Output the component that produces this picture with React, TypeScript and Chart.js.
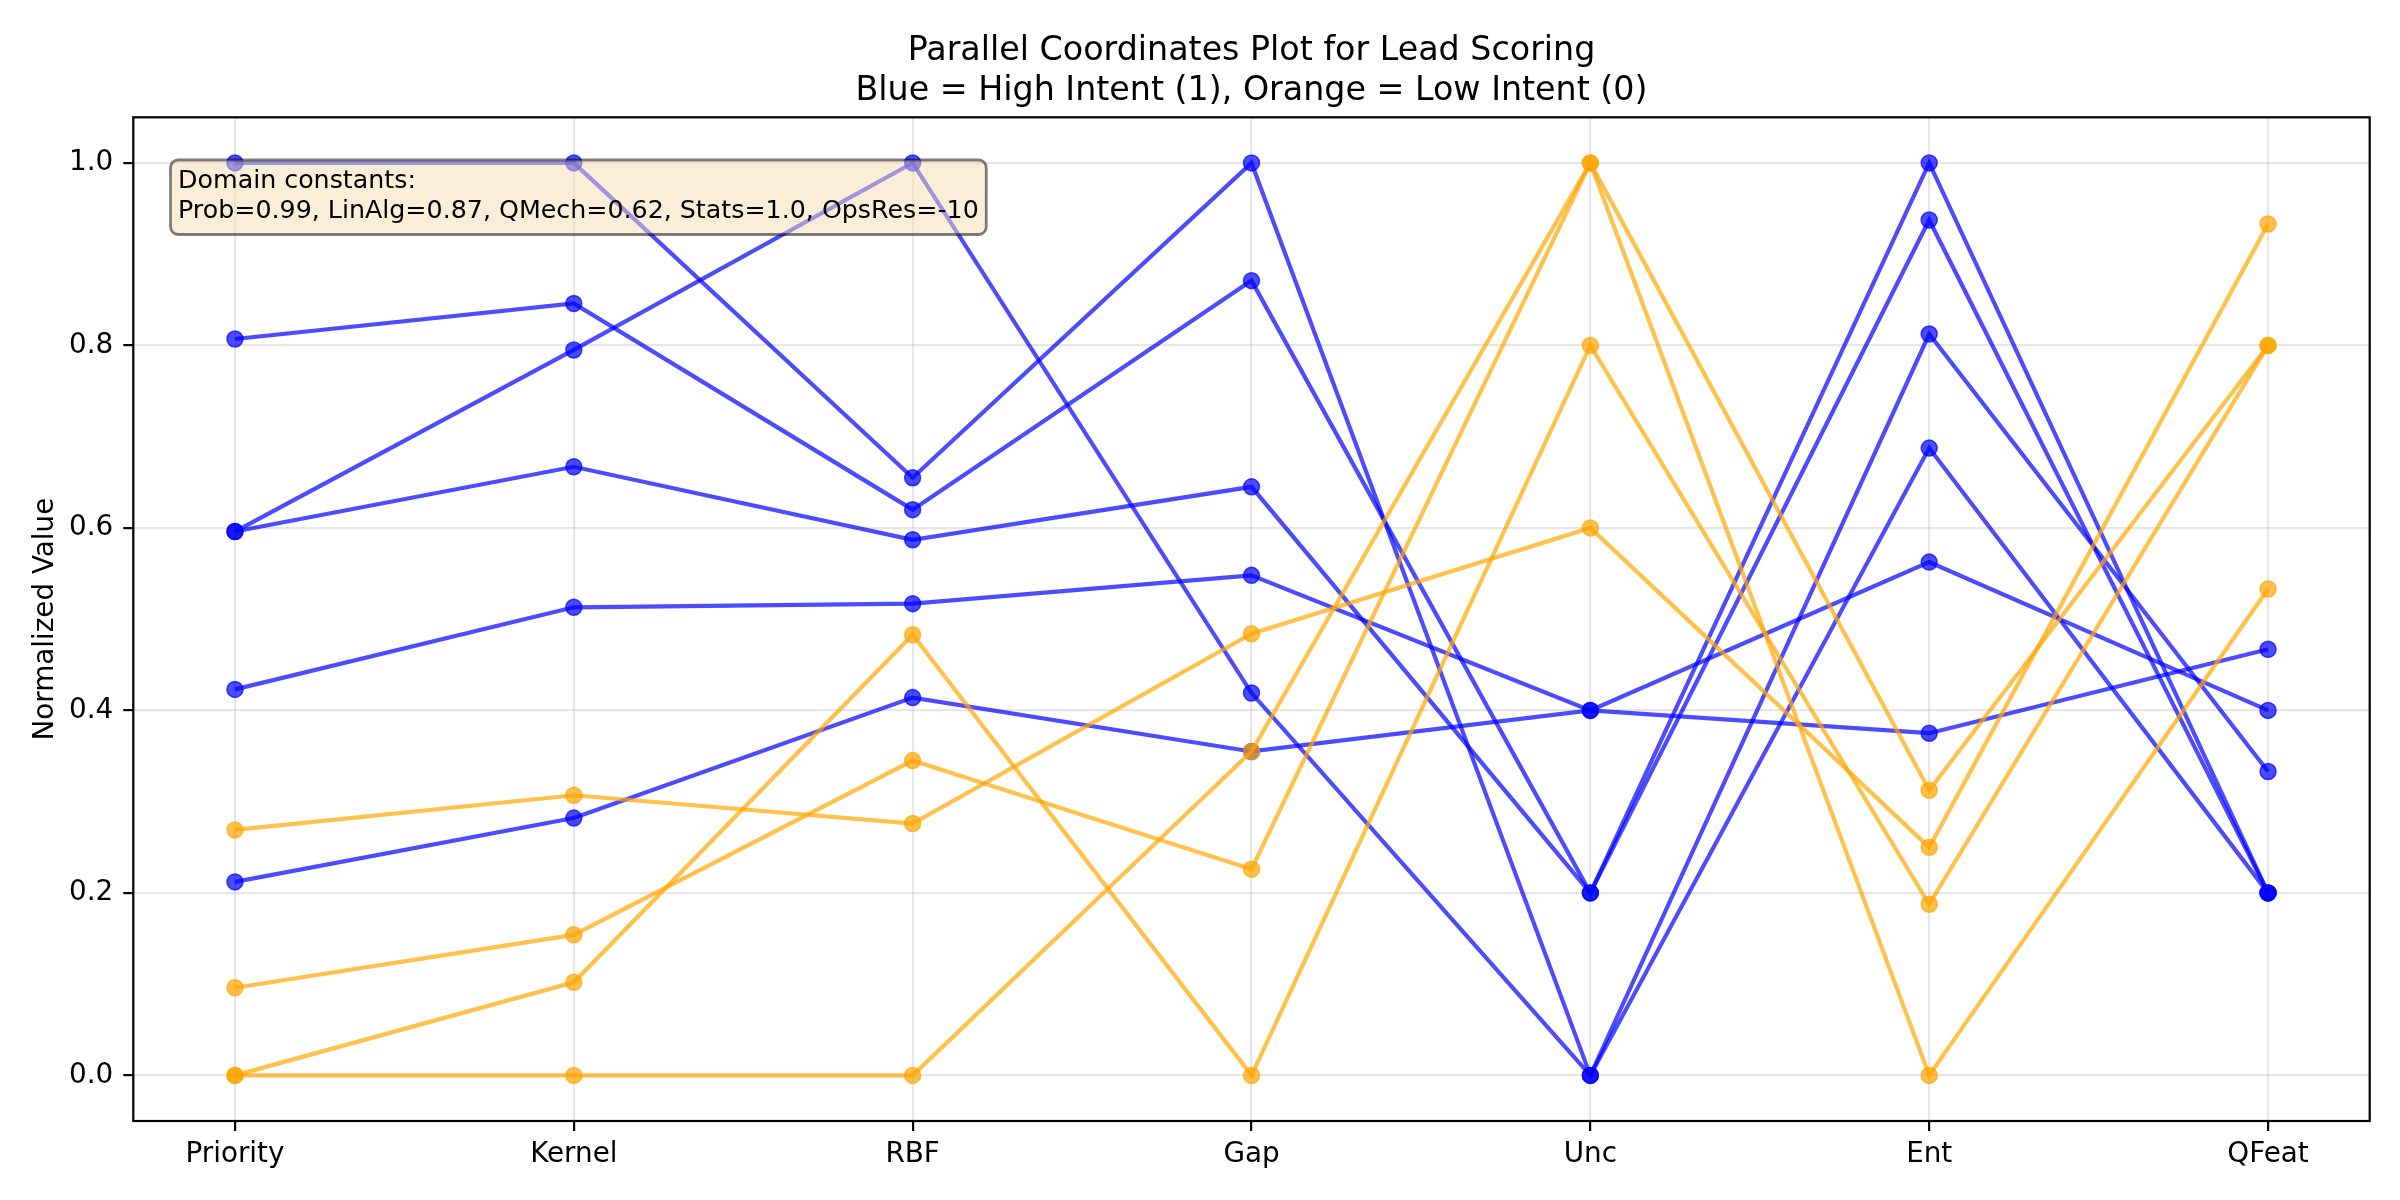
import { useEffect, useRef } from "react";
import { Chart, registerables } from "chart.js";

Chart.register(...registerables);

// Feature axes of the parallel-coordinates plot
const AXES = ["Priority", "Kernel", "RBF", "Gap", "Unc", "Ent", "QFeat"];
const Y_TICKS = [0, 0.2, 0.4, 0.6, 0.8, 1.0];

// High intent leads (label 1), normalized per feature
const highLeadA = [1.0, 1.0, 0.655, 1.0, 0.0, 0.8125, 0.333];
const highLeadB = [0.807, 0.846, 0.62, 0.871, 0.2, 1.0, 0.2];
const highLeadC = [0.596, 0.795, 1.0, 0.419, 0.0, 0.6875, 0.2];
const highLeadD = [0.596, 0.667, 0.587, 0.645, 0.2, 0.9375, 0.2];
const highLeadE = [0.423, 0.513, 0.517, 0.548, 0.4, 0.5625, 0.4];
const highLeadF = [0.212, 0.282, 0.414, 0.355, 0.4, 0.375, 0.467];

// Low intent leads (label 0)
const lowLeadA = [0.269, 0.307, 0.276, 0.484, 0.6, 0.25, 0.933];
const lowLeadB = [0.096, 0.154, 0.345, 0.226, 1.0, 0.0, 0.533];
const lowLeadC = [0.0, 0.102, 0.483, 0.0, 0.8, 0.1875, 0.8];
const lowLeadD = [0.0, 0.0, 0.0, 0.355, 1.0, 0.3125, 0.8];

const HIGH_INTENT = [highLeadA, highLeadB, highLeadC, highLeadD, highLeadE, highLeadF];
const LOW_INTENT = [lowLeadA, lowLeadB, lowLeadC, lowLeadD];

const TITLE_LINES = [
  "Parallel Coordinates Plot for Lead Scoring",
  "Blue = High Intent (1), Orange = Low Intent (0)",
];
const Y_LABEL = "Normalized Value";
const CONSTANT_LINES = [
  "Domain constants:",
  "Prob=0.99, LinAlg=0.87, QMech=0.62, Stats=1.0, OpsRes=-10",
];

const FAMILY = '"DejaVu Sans"';
const BLUE = "rgba(0, 0, 255, 0.7)";
const ORANGE = "rgba(255, 165, 0, 0.7)";
const GRID = "rgba(176, 176, 176, 0.3)";

const toDataset = (row: number[], color: string, order: number) => ({
  data: row.map((v, i) => ({ x: i, y: v })),
  borderColor: color,
  backgroundColor: color,
  borderWidth: 4.2,
  pointRadius: 8,
  pointBorderWidth: 1.5,
  pointBackgroundColor: color,
  pointBorderColor: color,
  pointHoverRadius: 8,
  tension: 0,
  fill: false,
  order,
});

const decorations = {
  id: "decorations",
  afterDatasetsDraw(chart: any) {
    const { ctx, chartArea: a } = chart;
    // Annotation box with the domain constants
    ctx.save();
    ctx.font = `25.3px ${FAMILY}`;
    const tx = a.left + 0.02 * (a.right - a.left);
    const ttop = a.top + 0.05 * (a.bottom - a.top);
    const pad = 7.5;
    const w = Math.max(...CONSTANT_LINES.map((t) => ctx.measureText(t).width));
    const bx = tx - pad;
    const by = ttop - pad;
    const bw = w + 2 * pad;
    const bh = 51 + 16 + pad;
    ctx.beginPath();
    ctx.roundRect(bx, by, bw, bh, pad);
    ctx.fillStyle = "rgba(245, 222, 179, 0.5)";
    ctx.fill();
    ctx.lineWidth = 2.8;
    ctx.strokeStyle = "rgba(0, 0, 0, 0.5)";
    ctx.stroke();
    ctx.fillStyle = "#000";
    ctx.textAlign = "left";
    ctx.textBaseline = "alphabetic";
    CONSTANT_LINES.forEach((t, i) => ctx.fillText(t, tx, ttop + 21 + i * 30));
    ctx.restore();
  },
  afterDraw(chart: any) {
    const { ctx, chartArea: a } = chart;
    ctx.save();
    // Frame around the plotting area
    ctx.lineWidth = 2.2;
    ctx.strokeStyle = "#000";
    ctx.strokeRect(a.left, a.top, a.right - a.left, a.bottom - a.top);
    // Two-line title
    ctx.fillStyle = "#000";
    ctx.font = `33.3px ${FAMILY}`;
    ctx.textAlign = "center";
    ctx.textBaseline = "alphabetic";
    const cx = (a.left + a.right) / 2;
    TITLE_LINES.forEach((t, i) => ctx.fillText(t, cx, 60 + i * 40));
    // Vertical axis title
    ctx.font = `27.8px ${FAMILY}`;
    ctx.translate(52.7, (a.top + a.bottom) / 2);
    ctx.rotate(-Math.PI / 2);
    ctx.fillText(Y_LABEL, 0, 0);
    ctx.restore();
  },
};

export default function App() {
  const ref = useRef<HTMLCanvasElement>(null);

  useEffect(() => {
    const tickFont = { family: "DejaVu Sans", size: 27.8 };
    const chart = new Chart(ref.current!, {
      type: "line",
      data: {
        datasets: [
          ...HIGH_INTENT.map((r) => toDataset(r, BLUE, 2)),
          ...LOW_INTENT.map((r) => toDataset(r, ORANGE, 1)),
        ],
      },
      options: {
        responsive: false,
        animation: false,
        devicePixelRatio: 1,
        layout: { padding: { left: 0, top: 117.3, right: 30.3, bottom: 0 } },
        plugins: {
          legend: { display: false },
          tooltip: { enabled: false },
          title: { display: false },
        },
        scales: {
          x: {
            type: "linear",
            min: -0.3,
            max: 6.3,
            afterFit: (s: any) => {
              s.height = 79;
            },
            afterBuildTicks: (s: any) => {
              s.ticks = AXES.map((_, i) => ({ value: i }));
            },
            ticks: {
              callback: (v: any) => AXES[v],
              font: tickFont,
              color: "#000",
              padding: 7,
              maxRotation: 0,
              autoSkip: false,
            },
            grid: {
              color: GRID,
              lineWidth: 2.2,
              tickColor: "#000",
              tickWidth: 2.2,
              tickLength: 10,
            },
            border: { display: false },
          },
          y: {
            type: "linear",
            min: -0.05,
            max: 1.05,
            afterFit: (s: any) => {
              s.width = 133.3;
            },
            afterBuildTicks: (s: any) => {
              s.ticks = Y_TICKS.map((v) => ({ value: v }));
            },
            ticks: {
              callback: (v: any) => Number(v).toFixed(1),
              font: tickFont,
              color: "#000",
              padding: 10,
            },
            grid: {
              color: GRID,
              lineWidth: 2.2,
              tickColor: "#000",
              tickWidth: 2.2,
              tickLength: 10,
            },
            border: { display: false },
          },
        },
      },
      plugins: [decorations],
    } as any);
    return () => chart.destroy();
  }, []);

  return (
    <div
      style={{
        position: "fixed",
        left: 0,
        top: 0,
        width: 2400,
        height: 1200,
        background: "#fff",
      }}
    >
      <canvas
        ref={ref}
        width={2400}
        height={1200}
        style={{ display: "block", width: 2400, height: 1200 }}
      />
    </div>
  );
}
